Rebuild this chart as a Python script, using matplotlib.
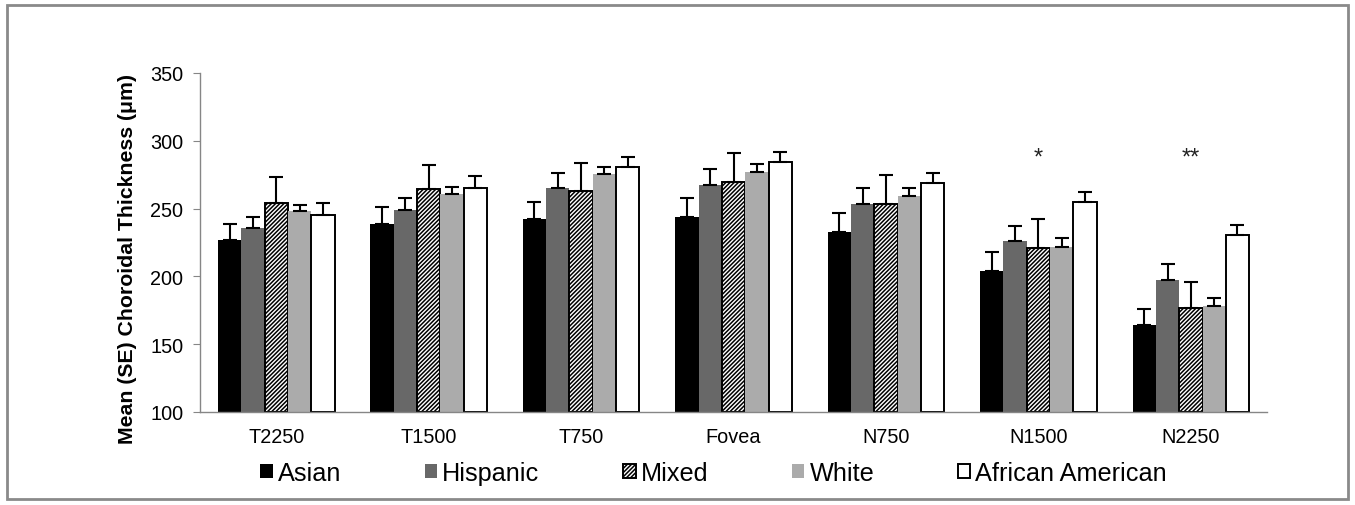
import matplotlib
matplotlib.use('Agg')
import matplotlib.pyplot as plt
from matplotlib.patches import Rectangle
import numpy as np

plt.rcParams['font.family'] = ['Liberation Sans', 'DejaVu Sans']
plt.rcParams['hatch.linewidth'] = 1.1

# 各位置与族群的脉络膜厚度均值及标准误
locations = ['T2250', 'T1500', 'T750', 'Fovea', 'N750', 'N1500', 'N2250']
groups = ['Asian', 'Hispanic', 'Mixed', 'White', 'African American']

asian = [227, 239, 242, 244, 232.5, 204, 164]
hispanic = [236, 249, 265, 267.5, 253.5, 226, 197.5]
mixed = [254, 264.5, 263, 269.5, 253.5, 221, 177]
white = [248, 261, 275.5, 277, 259, 221.5, 178.5]
african_american = [245, 265.5, 280.5, 284, 269, 254.5, 230.5]

asian_se = [12, 12.5, 12.5, 13.5, 14, 14, 12]
hispanic_se = [8, 9, 11, 12, 11.5, 11.5, 12]
mixed_se = [19, 18, 20.5, 21.5, 21.5, 21.5, 18.5]
white_se = [5, 5, 5.5, 6, 6, 6.5, 5.5]
african_american_se = [9, 8.5, 7.5, 8, 7.5, 8, 7.5]

# 显著性标记
sig_marks = {'N1500': '*', 'N2250': '**'}
sig_level = 288

means = [asian, hispanic, mixed, white, african_american]
errs = [asian_se, hispanic_se, mixed_se, white_se, african_american_se]
styles = [
    dict(color='#000000', edgecolor='#000000', linewidth=0),
    dict(color='#686868', edgecolor='#686868', linewidth=0),
    dict(color='white', edgecolor='#000000', linewidth=1.4, hatch='////////'),
    dict(color='#ababab', edgecolor='#ababab', linewidth=0),
    dict(color='white', edgecolor='#000000', linewidth=1.4),
]

fig = plt.figure(figsize=(13.55, 5.06), dpi=100)
ax = fig.add_axes([0.1476, 0.1838, 0.7875, 0.67])

x = np.arange(len(locations))
width = 0.153
for i, (vals, se, st, name) in enumerate(zip(means, errs, styles, groups)):
    pos = x + (i - 2) * width
    ax.bar(pos, np.array(vals) - 100, width, bottom=100, label=name, **st)
    ax.errorbar(pos, vals, yerr=[np.zeros(len(se)), se], fmt='none',
                ecolor='black', elinewidth=1.5, capsize=5, capthick=1.5)

for loc, mark in sig_marks.items():
    ax.text(locations.index(loc), sig_level, mark, ha='center', va='center',
            fontsize=17, color='#222222')

ax.set_xlim(-0.5, len(locations) - 0.5)
ax.set_ylim(100, 350)
ax.set_yticks(np.arange(100, 351, 50))
ax.set_xticks(x)
ax.set_xticklabels(locations)

spine_color = '#868686'
for side in ['top', 'right']:
    ax.spines[side].set_visible(False)
for side in ['left', 'bottom']:
    ax.spines[side].set_color(spine_color)
    ax.spines[side].set_linewidth(1.0)

ax.tick_params(axis='x', length=0, pad=11, labelsize=14.3)
ax.tick_params(axis='y', length=5, color=spine_color, pad=7, labelsize=14.3)

ax.set_ylabel('Mean (SE) Choroidal Thickness (μm)', fontsize=15.3, fontweight='bold')
ax.yaxis.set_label_coords(-0.059, 0.453)

ax.legend(loc='center', bbox_to_anchor=(0.5266, 0.063), bbox_transform=fig.transFigure,
          ncol=5, frameon=False, fontsize=18.2, handlelength=0.5, handleheight=0.5,
          handletextpad=0.2, columnspacing=3.3)

# 外框
fig.patches.append(Rectangle((0.005, 0.012), 0.99, 0.976, transform=fig.transFigure,
                             fill=False, edgecolor='#8a8a8a', linewidth=2))

fig.savefig('out.png', dpi=100)
